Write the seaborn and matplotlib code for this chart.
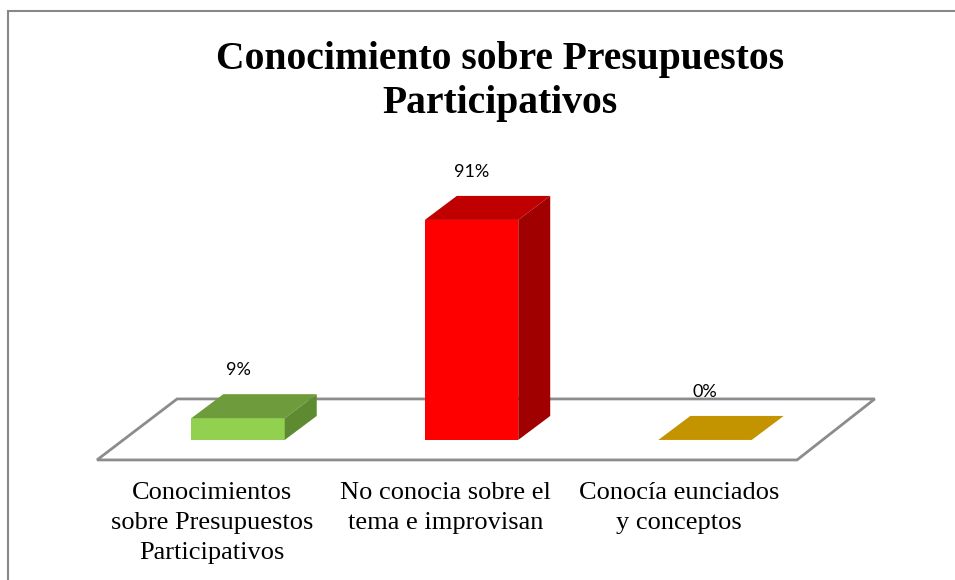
import matplotlib
matplotlib.use("Agg")
import matplotlib.pyplot as plt
from matplotlib.patches import Polygon, Rectangle
import seaborn as sns

# datos del grafico
categorias = ["Conocimientos\nsobre Presupuestos\nParticipativos",
              "No conocia sobre el\ntema e improvisan",
              "Conocía eunciados\ny conceptos"]
porcentajes = [9, 91, 0]
etiquetas = ["9%", "91%", "0%"]
color_frente = ["#92D050", "#FF0000", "#C39300"]
color_arriba = ["#6E9B3C", "#C00000", "#C39300"]
color_lado = ["#5E8A31", "#A00000", "#9C7600"]

sns.set_theme(style="white")
plt.rcParams["font.family"] = ["Liberation Serif", "DejaVu Serif"]
plt.rcParams["text.color"] = "black"

fig = plt.figure(figsize=(9.55, 5.8), dpi=100)
ax = fig.add_axes([0.127, 0.207, 0.7335, 0.5345])

df_x = list(range(len(categorias)))
sns.barplot(x=df_x, y=porcentajes, hue=df_x, palette=color_frente,
            width=0.4, legend=False, saturation=1, linewidth=0, ax=ax, zorder=3)

ax.set_xlim(-0.5, 2.5)
ax.set_ylim(-8.27, 119.95)

# profundidad del efecto 3D (unidades de datos)
dx, dy = 0.137, 9.93

# piso en perspectiva
piso = Polygon([(-0.604, -8.27), (2.394, -8.27), (2.727, 16.96), (-0.261, 16.96)],
               closed=True, facecolor="white", edgecolor="#8C8C8C", lw=2,
               clip_on=False, zorder=1)
ax.add_patch(piso)

for i, p in enumerate(ax.patches[:len(porcentajes)]):
    x0, w, h = p.get_x(), p.get_width(), p.get_height()
    arriba = Polygon([(x0, h), (x0 + w, h), (x0 + w + dx, h + dy), (x0 + dx, h + dy)],
                     closed=True, facecolor=color_arriba[i], edgecolor="none",
                     clip_on=False, zorder=3)
    ax.add_patch(arriba)
    if h > 0:
        lado = Polygon([(x0 + w, 0), (x0 + w + dx, dy), (x0 + w + dx, h + dy), (x0 + w, h)],
                       closed=True, facecolor=color_lado[i], edgecolor="none",
                       clip_on=False, zorder=3)
        ax.add_patch(lado)
    ax.text(x0 + w / 2, h + dy + 6.5, etiquetas[i], ha="center", va="bottom",
            fontsize=13, family="Lato", color="black")

# etiquetas de categoria al frente del piso
for i, cat in enumerate(categorias):
    ax.text(i - 0.111, -17.5, cat, ha="center", va="top", fontsize=19,
            family="Liberation Serif", color="black", linespacing=1.45,
            clip_on=False)

ax.set_xticks([])
ax.set_yticks([])
ax.set_xlabel("")
ax.set_ylabel("")
for s in ax.spines.values():
    s.set_visible(False)
ax.patch.set_alpha(0)

fig.text(500 / 955, 1 - 81 / 580, "Conocimiento sobre Presupuestos\nParticipativos",
         ha="center", va="center", fontsize=28.5, fontweight="bold",
         family="Liberation Serif", color="black", linespacing=1.25)

# borde del area del grafico
fig.add_artist(Rectangle((8 / 955, -0.02), 1.0, 1 - 11 / 580 + 0.02,
                         transform=fig.transFigure, fill=False,
                         edgecolor="#888888", lw=1.5))

fig.savefig("out.png", dpi=100)
